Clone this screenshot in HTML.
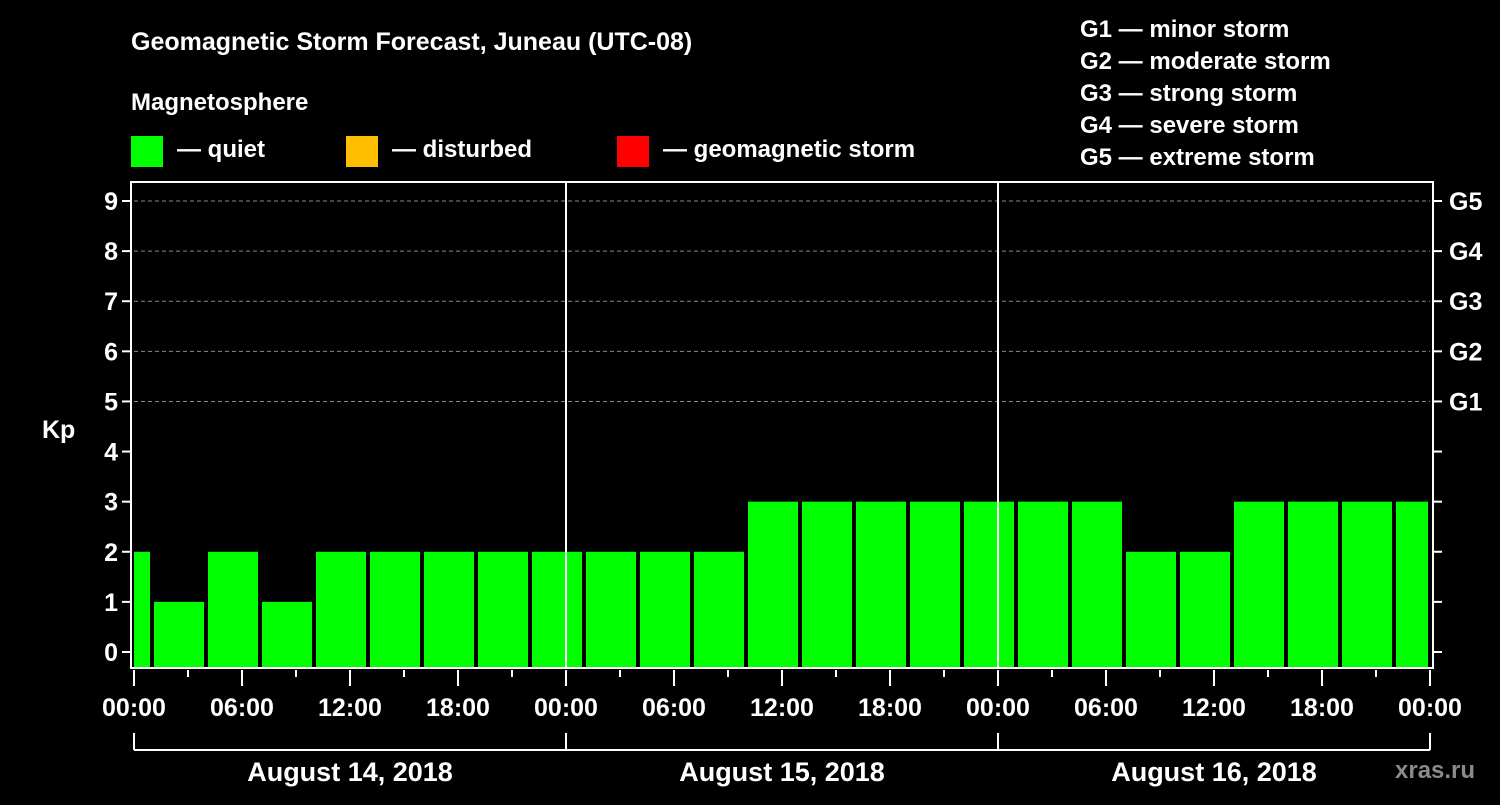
<!DOCTYPE html>
<html><head><meta charset="utf-8"><style>
body{margin:0;background:#000;width:1500px;height:800px;overflow:hidden}
svg text{font-family:"Liberation Sans",sans-serif;font-weight:bold;fill:#fff}
</style></head><body>
<svg id="c" width="1500" height="800" xmlns="http://www.w3.org/2000/svg">
<text x="131" y="50" font-size="25">Geomagnetic Storm Forecast, Juneau (UTC-08)</text>
<text x="131" y="110" font-size="24">Magnetosphere</text>
<rect x="131" y="136" width="32" height="31" fill="#00ff00"/>
<text x="177" y="157" font-size="24">— quiet</text>
<rect x="346" y="136" width="32" height="31" fill="#ffbf00"/>
<text x="392" y="157" font-size="24">— disturbed</text>
<rect x="617" y="136" width="32" height="31" fill="#ff0000"/>
<text x="663" y="157" font-size="24">— geomagnetic storm</text>
<g font-size="24">
<text x="1080" y="37">G1 — minor storm</text>
<text x="1080" y="69">G2 — moderate storm</text>
<text x="1080" y="101">G3 — strong storm</text>
<text x="1080" y="133">G4 — severe storm</text>
<text x="1080" y="165">G5 — extreme storm</text>
</g>
<text x="42" y="438" font-size="25">Kp</text>
<text x="1395" y="778" font-size="24" fill="#888" style="fill:#8a8a8a">xras.ru</text>
<g id="plot"></g>
</svg>
<script>
const kpValues=[2,1,2,1,2,2,2,2,2,2,2,2,3,3,3,3,3,3,3,2,2,3,3,3,3];
const barStartHours=[-2,1,4,7,10,13,16,19,22,25,28,31,34,37,40,43,46,49,52,55,58,61,64,67,70];
const xTickLabels=["00:00","06:00","12:00","18:00","00:00","06:00","12:00","18:00","00:00","06:00","12:00","18:00","00:00"];
const dateLabels=["August 14, 2018","August 15, 2018","August 16, 2018"];
const gLabels=["G1","G2","G3","G4","G5"];
const NS="http://www.w3.org/2000/svg";
const L=134,R=1430,T=182,B=668;
const x=h=>L+h*(R-L)/72;
const y=v=>652-v*(652-201)/9;
const g=document.getElementById('plot');
function mk(tag,a,txt){const e=document.createElementNS(NS,tag);for(const k in a)e.setAttribute(k,a[k]);if(txt!==undefined)e.textContent=txt;g.appendChild(e);return e;}
// grid
for(let v=5;v<=9;v++){const e=mk('line',{x1:L,x2:R,y1:y(v),y2:y(v),stroke:'#888','stroke-dasharray':'4,3','stroke-width':1});

}
// bars
kpValues.forEach((v,i)=>{const x0=Math.max(L,x(barStartHours[i])+2),x1=Math.min(R-2,x(barStartHours[i]+3)-2);
const col=v>=5?'#ff0000':(v>=4?'#ffbf00':'#00ff00');
const e=mk('rect',{x:x0,y:y(v),width:x1-x0,height:B-y(v),fill:col});

});
// day separators
[24,48].forEach(h=>{const e=mk('line',{x1:x(h),x2:x(h),y1:T,y2:B,stroke:'#fff','stroke-width':2});

});
// frame
const f=mk('rect',{x:131,y:T,width:1302,height:B-T,fill:'none',stroke:'#fff','stroke-width':2});


// y ticks
for(let v=0;v<=9;v++){mk('line',{x1:122,x2:130,y1:y(v),y2:y(v),stroke:'#fff','stroke-width':2});
const t=mk('text',{x:118,y:y(v)+9,'font-size':25,'text-anchor':'end'},String(v));


mk('line',{x1:1434,x2:1442,y1:y(v),y2:y(v),stroke:'#fff','stroke-width':2});}
gLabels.forEach((s,i)=>{const t=mk('text',{x:1449,y:y(i+5)+9,'font-size':25},s);

});
// x ticks
for(let h=0;h<=72;h+=3){const major=h%6===0;mk('line',{x1:x(h),x2:x(h),y1:670,y2:major?686:677,stroke:'#fff','stroke-width':2});}
xTickLabels.forEach((s,i)=>{const t=mk('text',{x:x(i*6),y:716,'font-size':25,'text-anchor':'middle'},s);

});
// date bracket
mk('line',{x1:L,x2:R,y1:750,y2:750,stroke:'#fff','stroke-width':2});
for(let d=0;d<=3;d++)mk('line',{x1:x(d*24),x2:x(d*24),y1:733,y2:750,stroke:'#fff','stroke-width':2});
dateLabels.forEach((s,i)=>{const t=mk('text',{x:x(i*24+12),y:781,'font-size':27,'text-anchor':'middle'},s);

});
</script>
</body></html>
